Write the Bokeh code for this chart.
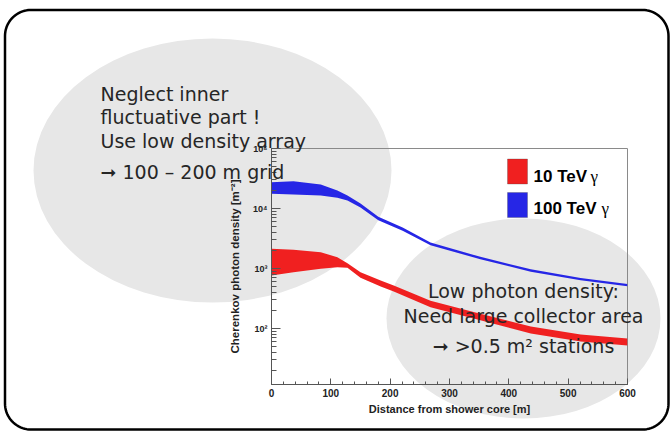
import numpy as np
from bokeh.plotting import figure
from bokeh.models import Range1d, Label, BoxAnnotation, GridBox
from bokeh.embed import file_html
from bokeh.resources import INLINE

# ---- data ----
dist_10 = [0, 37, 83, 111, 128, 150, 184, 206, 268, 352, 437, 521, 600]
lo_10 = [764, 868, 989, 1051, 1027, 700, 501, 414, 226, 137, 82.8, 60.7, 52.1]
hi_10 = [2130, 2050, 1870, 1543, 1226, 868, 631, 521, 291, 176, 108, 79.4, 68.1]

dist_100 = [0, 37, 83, 111, 128, 150, 180, 221, 268, 352, 437, 521, 600]
lo_100 = [17580, 17120, 16470, 15080, 13600, 10390, 6360, 4280, 2445, 1429, 884, 640, 509]
hi_100 = [27440, 28510, 25120, 19950, 16470, 12120, 7300, 4840, 2722, 1566, 970, 697, 554]

series_names = ["10 TeV", "100 TeV"]
y_tick_labels = {100: "10²", 1000: "10³", 10000: "10⁴", 100000: "10⁵"}

left_note = ["Neglect inner", "fluctuative part !", "Use low density array", "➞ 100 – 200 m grid"]
right_note = ["Low photon density:", "Need large collector area", "➞ >0.5 m² stations"]

RED = "#f02020"
BLUE = "#2626e6"
GREY = "#e7e7e7"
W, H = 672, 432


def overlay_fig():
    f = figure(width=W, height=H, x_range=Range1d(0, W), y_range=Range1d(H, 0),
               min_border=0, toolbar_location=None, output_backend="svg")
    f.axis.visible = False
    f.grid.visible = False
    f.outline_line_color = None
    f.background_fill_color = None
    f.border_fill_color = None
    f.frame_align = False
    return f


# ---- layer 1: grey ellipses ----
bg = overlay_fig()
bg.background_fill_color = "white"
bg.border_fill_color = "white"
bg.ellipse(x=[212, 523], y=[170, 318], width=[358, 274], height=[264, 200],
           fill_color=GREY, line_color=None)

# ---- layer 2: the plot ----
p = figure(width=W, height=H, x_range=Range1d(0, 600), y_range=Range1d(11.7, 1e5),
           y_axis_type="log", output_backend="svg", toolbar_location=None,
           min_border_left=271, min_border_right=45, min_border_top=148, min_border_bottom=48)
p.frame_align = False
p.grid.visible = False
p.outline_line_color = "#8a8a8a"
p.outline_line_width = 1
p.background_fill_color = None
p.border_fill_color = None

p.varea(x=dist_10, y1=lo_10, y2=hi_10, fill_color=RED)
p.varea(x=dist_100, y1=lo_100, y2=hi_100, fill_color=BLUE)

for ax in (p.xaxis[0], p.yaxis[0]):
    ax.axis_line_color = "#555555"
    ax.major_tick_line_color = "#555555"
    ax.minor_tick_line_color = "#555555"
    ax.major_tick_out = 0
    ax.minor_tick_out = 0
    ax.major_label_text_font = "Liberation Sans"
    ax.major_label_text_font_style = "bold"
    ax.major_label_text_color = "#222222"
    ax.axis_label_text_font = "Liberation Sans"
    ax.axis_label_text_font_style = "bold"
    ax.axis_label_text_color = "#222222"

xa = p.xaxis[0]
xa.ticker.desired_num_ticks = 6
xa.ticker.num_minor_ticks = 5
xa.major_tick_in = 6
xa.minor_tick_in = 3
xa.major_label_text_font_size = "10px"
xa.major_label_standoff = 4
xa.axis_label = "Distance from shower core [m]"
xa.axis_label_text_font_size = "11px"
xa.axis_label_standoff = 3

ya = p.yaxis[0]
ya.major_tick_in = 9
ya.minor_tick_in = 5
ya.major_label_text_font_size = "9px"
ya.major_label_standoff = 4
ya.major_label_overrides = y_tick_labels
ya.axis_label = "Cherenkov photon density [m⁻²]"
ya.axis_label_text_font_size = "11.5px"
ya.axis_label_standoff = 9

# ---- layer 3: texts, legend and frame ----
top = overlay_fig()


def rounded_rect(l, t, r, b, rad, n=20):
    xs, ys = [], []
    corners = [(r - rad, t + rad, -np.pi / 2, 0), (r - rad, b - rad, 0, np.pi / 2),
               (l + rad, b - rad, np.pi / 2, np.pi), (l + rad, t + rad, np.pi, 1.5 * np.pi)]
    for cx, cy, a0, a1 in corners:
        a = np.linspace(a0, a1, n)
        xs += list(cx + rad * np.cos(a))
        ys += list(cy + rad * np.sin(a))
    return xs + xs[:1], ys + ys[:1]


fx, fy = rounded_rect(4.5, 9.5, 668, 429, 26)
top.line(x=fx, y=fy, line_color="black", line_width=2.5)

for i, (name, col) in enumerate(zip(series_names, [RED, BLUE])):
    t0 = 158.5 + i * 33.5
    top.add_layout(BoxAnnotation(left=507, right=527, top=t0, bottom=t0 + 25,
                                 fill_color=col, fill_alpha=1, line_color="#444444", line_width=1))
    top.add_layout(Label(x=533, y=176 + i * 31.5, text=name,
                         text_font="Liberation Sans", text_font_style="bold", text_font_size="17px",
                         text_color="black", text_baseline="alphabetic"))
    top.add_layout(Label(x=590 + i * 11, y=176 + i * 31.5, text="γ",
                         text_font="Liberation Serif", text_font_size="17px",
                         text_color="black", text_baseline="alphabetic"))

for line, yb in zip(left_note, [93.3, 116.7, 140, 171.7]):
    top.add_layout(Label(x=100, y=yb, text=line,
                         text_font="DejaVu Sans", text_font_size="19px", text_color="#262626",
                         text_baseline="alphabetic", text_align="left"))
for line, yb in zip(right_note, [290.7, 315, 345]):
    top.add_layout(Label(x=523, y=yb, text=line,
                         text_font="DejaVu Sans", text_font_size="19px", text_color="#262626",
                         text_baseline="alphabetic", text_align="center"))

layout = GridBox(children=[(bg, 0, 0), (p, 0, 0), (top, 0, 0)])

open("out.html", "w").write(file_html(layout, INLINE))
